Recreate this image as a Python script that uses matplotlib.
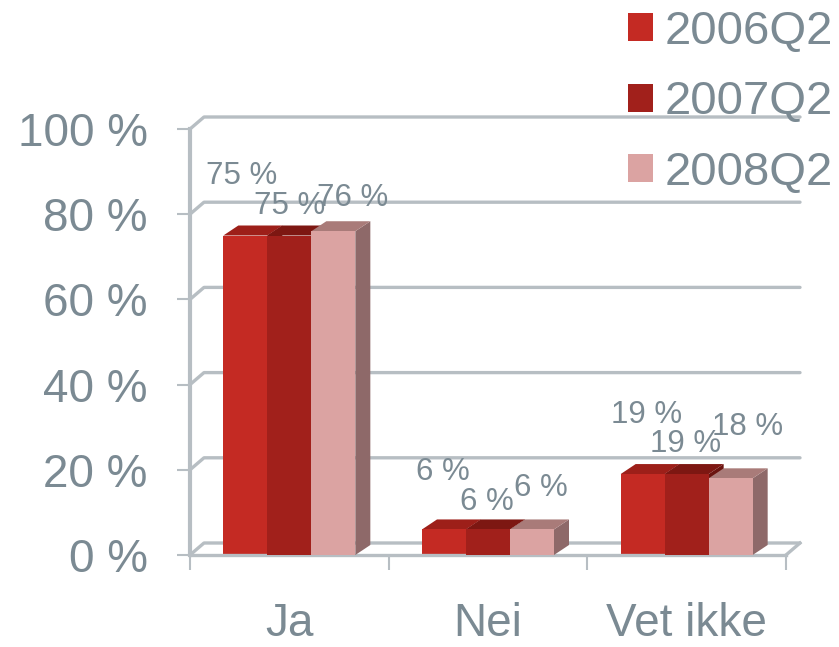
import matplotlib
matplotlib.use("Agg")
from matplotlib import pyplot as plt
from matplotlib.patches import Polygon
import numpy as np

plt.rcParams['font.family'] = ['Liberation Sans', 'DejaVu Sans']

# data
categories = ["Ja", "Nei", "Vet ikke"]
series = ["2006Q2", "2007Q2", "2008Q2"]
v2006 = [75, 6, 19]
v2007 = [75, 6, 19]
v2008 = [76, 6, 18]
yticks = [0, 20, 40, 60, 80, 100]

values = [v2006, v2007, v2008]
front = ['#c42a23', '#a1201b', '#dba3a2']
top = ['#9d1f19', '#7d1712', '#a97b79']
side = ['#7a1712', '#6a130f', '#8e6969']
txt = '#7b8a93'
grid = '#b7bec3'

W, H = 839, 647
fig = plt.figure(figsize=(W / 100, H / 100), dpi=100)
ax = fig.add_axes([190 / W, (H - 555) / H, 596 / W, 426 / H])
ax.set_xlim(-0.5, 2.5)
ax.set_ylim(0, 100)

pxx = 3 / 596.0      # x data units per pixel
pxy = 100 / 426.0    # y data units per pixel
bdx, bdy = 15 * pxx, 10 * pxy    # bar depth
wdx, wdy = 14 * pxx, 12 * pxy    # wall depth

# back wall gridlines
for v in yticks:
    ax.plot([-0.5, -0.5 + wdx, 2.5 + wdx], [v, v + wdy, v + wdy],
            color=grid, lw=2.4, clip_on=False, zorder=1, solid_capstyle='round')
ax.plot([2.5, 2.5 + wdx], [0, wdy], color=grid, lw=2.4, clip_on=False, zorder=1)

bw = 44 * pxx
x = np.arange(len(categories))
offs = [-bw, 0, bw]
# label offsets in pixels, per series and category
lab_off = [[(-4, 59), (-1, 57), (4, 59)],
           [(0, 29), (-1, 27), (-1, 30)],
           [(19, 33), (9, 41), (17, 51)]]

bars = []
for i, vals in enumerate(values):
    xs = x + offs[i]
    for xc, h in zip(xs, vals):
        x0, x1 = xc - bw / 2, xc + bw / 2
        ax.add_patch(Polygon([(x1, 0), (x1 + bdx, bdy), (x1 + bdx, h + bdy), (x1, h)],
                             closed=True, fc=side[i], ec='none', zorder=2 + i, clip_on=False))
        ax.add_patch(Polygon([(x0, h), (x1, h), (x1 + bdx, h + bdy), (x0 + bdx, h + bdy)],
                             closed=True, fc=top[i], ec='none', zorder=2 + i, clip_on=False))
    b = ax.bar(xs, vals, width=bw, color=front[i], label=series[i], zorder=2 + i + 0.5,
               clip_on=False)
    bars.append(b)
    for j, (xc, h) in enumerate(zip(xs, vals)):
        ax.annotate(f"{h} %", (xc, h), xytext=lab_off[i][j], textcoords='offset pixels',
                    ha='center', va='center', fontsize=22.5, color=txt, zorder=10)

# axes styling
for s in ['top', 'right']:
    ax.spines[s].set_visible(False)
ax.spines['left'].set_color(grid)
ax.spines['left'].set_linewidth(3)
ax.spines['bottom'].set_color(grid)
ax.spines['bottom'].set_linewidth(2.4)

ax.set_yticks(yticks)
ax.set_yticklabels([f"{v} %" for v in yticks])
ax.tick_params(axis='y', direction='out', length=9.5, width=1.5, color=grid,
               labelsize=33, labelcolor=txt, pad=21)

ax.set_xticks([-0.5, 0.5, 1.5, 2.5])
ax.set_xticklabels([])
ax.set_xticks(x, minor=True)
ax.set_xticklabels(categories, minor=True)
ax.tick_params(axis='x', which='major', direction='out', length=11, width=1.5, color=grid)
ax.tick_params(axis='x', which='minor', length=0, labelsize=33, labelcolor=txt, pad=34)

leg = fig.legend(handles=bars, labels=series, loc='upper left',
                 bbox_to_anchor=(628 / W, 1 - 10 / H), frameon=False, fontsize=34,
                 handlelength=0.53, handleheight=0.53, handletextpad=0.25,
                 labelspacing=0.56, borderpad=0, borderaxespad=0)
for t in leg.get_texts():
    t.set_color(txt)

fig.savefig("out.png", dpi=100)
